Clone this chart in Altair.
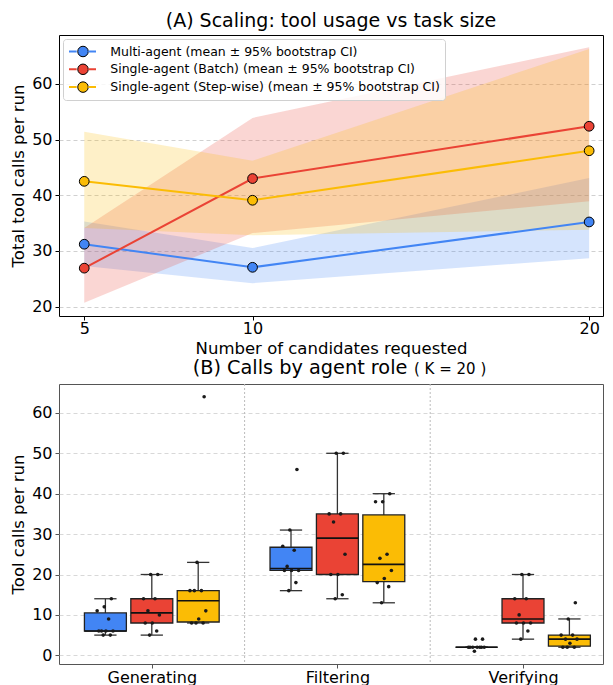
import altair as alt
import pandas as pd

# ---------------- Panel A data ----------------
K_VALUES = [5, 10, 20]
AGENTS = ["Multi-agent", "Single-agent (Batch)", "Single-agent (Step-wise)"]
LEGEND_SUFFIX = " (mean ± 95% bootstrap CI)"
COLORS = ["#4285F4", "#EA4335", "#FBBC05"]

MULTI_MEAN = [31.2, 27.05, 35.2]
MULTI_LO = [27.3, 24.2, 28.7]
MULTI_HI = [35.3, 30.5, 43.1]
BATCH_MEAN = [26.9, 43.0, 52.4]
BATCH_LO = [20.7, 33.2, 38.9]
BATCH_HI = [34.1, 53.9, 66.6]
STEP_MEAN = [42.5, 39.1, 48.0]
STEP_LO = [34.1, 32.8, 33.8]
STEP_HI = [51.4, 46.2, 66.3]
Y_TICKS_A = [20, 30, 40, 50, 60]

# ---------------- Panel B data (K = 20) ----------------
ROLES = ["Generating", "Filtering", "Verifying"]
MULTI_GEN = [5, 5, 6, 6, 6, 6, 9, 11, 12, 14]
BATCH_GEN = [5, 6, 8, 8, 10, 11, 14, 14, 20, 20]
STEP_GEN = [8, 8, 8, 9, 11, 16, 16, 16, 23, 64]
MULTI_FILT = [16, 18, 21, 21, 21, 22, 26, 27, 31, 46]
BATCH_FILT = [14, 15, 20, 20, 25, 33, 35, 35, 50, 50]
STEP_FILT = [13, 17, 18, 19, 21, 24, 25, 38, 38, 40]
MULTI_VER = [1, 2, 2, 2, 2, 2, 2, 2, 4, 4]
BATCH_VER = [4, 6, 8, 8, 8, 10, 14, 14, 20, 20]
STEP_VER = [2, 2, 2, 3, 4, 4, 5, 5, 9, 13]
Y_TICKS_B = [0, 10, 20, 30, 40, 50, 60]
TITLE_B = "(B) Calls by agent role"
TITLE_B_NOTE = "( K = 20 )"

FONT = "DejaVu Sans"
SERIES = [a + LEGEND_SUFFIX for a in AGENTS]
# line legend uses its own (visually identical) labels so that Vega-Lite keeps two legends
SERIES_LINE = [s + " " for s in SERIES]

rows_a = []
for s, sl, means, los, his in zip(SERIES, SERIES_LINE, [MULTI_MEAN, BATCH_MEAN, STEP_MEAN],
                                  [MULTI_LO, BATCH_LO, STEP_LO], [MULTI_HI, BATCH_HI, STEP_HI]):
    for k, m, lo, hi in zip(K_VALUES, means, los, his):
        rows_a.append({"K": k, "series": s, "series_line": sl, "mean": m, "lo": lo, "hi": hi})
df_a = pd.DataFrame(rows_a)

rows_b = []
groups_b = {
    ("Generating", 0): MULTI_GEN, ("Generating", 1): BATCH_GEN, ("Generating", 2): STEP_GEN,
    ("Filtering", 0): MULTI_FILT, ("Filtering", 1): BATCH_FILT, ("Filtering", 2): STEP_FILT,
    ("Verifying", 0): MULTI_VER, ("Verifying", 1): BATCH_VER, ("Verifying", 2): STEP_VER,
}
for (role, ai), vals in groups_b.items():
    for v in vals:
        rows_b.append({"role": role, "ri": ROLES.index(role), "series": SERIES[ai],
                       "ai": ai, "value": v})
df_b = pd.DataFrame(rows_b)

color_scale = alt.Scale(domain=SERIES, range=COLORS)
line_scale = alt.Scale(domain=SERIES_LINE, range=COLORS)

LAB = 16      # tick label size
TIT = 16.5    # axis title size
W = 544       # keeps the page within the window (the reference panel is cut at the right)
PX_PER_K = 33.66
PX_PER_ROLE = 185.6

# ---------------- Panel A ----------------
xa = alt.X("K:Q", scale=alt.Scale(domain=[4.25, 4.25 + W / PX_PER_K], nice=False, zero=False),
           axis=alt.Axis(values=K_VALUES, title="Number of candidates requested", grid=False,
                         domain=False, labelFontSize=LAB, titleFontSize=TIT, tickSize=4,
                         tickColor="black", labelColor="black", titleColor="black",
                         labelPadding=0, titlePadding=4, titleFontWeight="normal",
                         labelFont=FONT, titleFont=FONT))
ya_scale = alt.Scale(domain=[18.3, 68.8], nice=False, zero=False)
ya_axis = alt.Axis(values=Y_TICKS_A, title="Total tool calls per run", grid=True,
                   gridDash=[4, 3], gridColor="#d0d0d0", domain=False, labelFontSize=LAB,
                   titleFontSize=TIT, tickSize=4, tickColor="black", labelColor="black",
                   titleColor="black", labelPadding=3, titlePadding=5,
                   titleFontWeight="normal", labelFont=FONT, titleFont=FONT)

LEG_FS = 12.5
# marker legend: drawn first -> frame, black-edged circles and the label texts
marker_legend = alt.Legend(title=None, orient="none", legendX=4, legendY=4,
                           symbolType="circle", symbolSize=110, symbolStrokeColor="black",
                           symbolStrokeWidth=1, symbolOpacity=1, labelFontSize=LEG_FS,
                           labelFont=FONT, labelColor="black", labelLimit=450, padding=5,
                           rowPadding=2.8, clipHeight=15, symbolOffset=8.75, labelOffset=21,
                           fillColor="rgba(255,255,255,0.82)", strokeColor="#d0d0d0",
                           cornerRadius=3)
# line legend: drawn on top -> coloured line with a gap where the circle sits
line_legend = alt.Legend(title=None, orient="none", legendX=4, legendY=4,
                         symbolType="M-1,0H-0.43M0.43,0H1", symbolSize=729,
                         symbolStrokeWidth=2, labelFontSize=LEG_FS, labelFont=FONT,
                         labelExpr="''", padding=5, rowPadding=2.8, clipHeight=15)

band = alt.Chart(df_a).mark_area(opacity=0.22).encode(
    x=xa,
    y=alt.Y("lo:Q", scale=ya_scale, axis=ya_axis),
    y2="hi:Q",
    fill=alt.Fill("series:N", scale=color_scale, legend=marker_legend),
)
line = alt.Chart(df_a).mark_line(strokeWidth=2).encode(
    x=xa, y=alt.Y("mean:Q", scale=ya_scale),
    color=alt.Color("series_line:N", scale=line_scale, legend=line_legend),
)
pts = alt.Chart(df_a).mark_circle(size=95, opacity=1, stroke="black", strokeWidth=1).encode(
    x=xa, y=alt.Y("mean:Q", scale=ya_scale),
    fill=alt.Fill("series:N", scale=color_scale, legend=marker_legend),
)
top = alt.layer(band, line, pts).properties(
    width=W, height=281,
    title=alt.Title("(A) Scaling: tool usage vs task size", fontSize=19, fontWeight="normal",
                    font=FONT, color="black", frame="group", anchor="middle", offset=4),
    view=alt.ViewBackground(stroke="black", strokeWidth=1),
)

# ---------------- Panel B ----------------
n_roles = len(ROLES)
xb_scale = alt.Scale(domain=[-0.5, -0.5 + W / PX_PER_ROLE], nice=False, zero=False)
label_expr = "[" + ",".join("'" + r + "'" for r in ROLES) + "][datum.value]"
xb_axis = alt.Axis(values=list(range(n_roles)), labelExpr=label_expr, title=None, grid=False,
                   domain=False, labelFontSize=LAB, tickSize=4, tickColor="#555",
                   labelColor="black", labelPadding=1, labelFont=FONT)
yb_scale = alt.Scale(domain=[-2.15, 67.15], nice=False, zero=False)
yb_axis = alt.Axis(values=Y_TICKS_B, title="Tool calls per run", grid=True, gridDash=[4, 3],
                   gridColor="#d8d8d8", domain=False, labelFontSize=LAB, titleFontSize=TIT,
                   tickSize=4, tickColor="#555", labelColor="black", titleColor="black",
                   labelPadding=3, titlePadding=5, titleFontWeight="normal",
                   labelFont=FONT, titleFont=FONT)

SLOT = 0.25
HALF_BOX = 0.113
HALF_CAP = 0.06
pos_expr = "datum.ri + (datum.ai - 1) * %f" % SLOT

seps = alt.Chart(pd.DataFrame({"sep": [i + 0.5 for i in range(n_roles - 1)]})).mark_rule(
    color="#bbbbbb", strokeDash=[2, 2], strokeWidth=1).encode(
    x=alt.X("sep:Q", scale=xb_scale, axis=xb_axis))

whisk_base = alt.Chart(df_b).transform_joinaggregate(
    q1="q1(value)", q3="q3(value)", groupby=["ri", "ai"]
).transform_calculate(
    lof="datum.q1 - 1.5 * (datum.q3 - datum.q1)",
    hif="datum.q3 + 1.5 * (datum.q3 - datum.q1)",
).transform_filter(
    "datum.value >= datum.lof && datum.value <= datum.hif"
).transform_aggregate(
    wmin="min(value)", wmax="max(value)", groupby=["ri", "ai"]
).transform_calculate(
    pos=pos_expr,
    cl="datum.pos - %f" % HALF_CAP,
    cr="datum.pos + %f" % HALF_CAP,
)
whisker = whisk_base.mark_rule(color="#333333", strokeWidth=1.3).encode(
    x=alt.X("pos:Q", scale=xb_scale, axis=xb_axis),
    y=alt.Y("wmin:Q", scale=yb_scale, axis=yb_axis), y2="wmax:Q")
cap_lo = whisk_base.mark_rule(color="#333333", strokeWidth=1.3).encode(
    x=alt.X("cl:Q", scale=xb_scale), x2="cr:Q", y=alt.Y("wmin:Q", scale=yb_scale))
cap_hi = whisk_base.mark_rule(color="#333333", strokeWidth=1.3).encode(
    x=alt.X("cl:Q", scale=xb_scale), x2="cr:Q", y=alt.Y("wmax:Q", scale=yb_scale))

box_base = alt.Chart(df_b).transform_aggregate(
    q1="q1(value)", q3="q3(value)", med="median(value)", groupby=["ri", "ai", "series"]
).transform_calculate(
    pos=pos_expr,
    xl="datum.pos - %f" % HALF_BOX,
    xr="datum.pos + %f" % HALF_BOX,
)
box = box_base.mark_bar(stroke="#222222", strokeWidth=1.3, opacity=1).encode(
    x=alt.X("xl:Q", scale=xb_scale), x2="xr:Q",
    y=alt.Y("q1:Q", scale=yb_scale), y2="q3:Q",
    fill=alt.Fill("series:N", scale=color_scale, legend=None))
median = box_base.mark_rule(color="#111111", strokeWidth=1.6).encode(
    x=alt.X("xl:Q", scale=xb_scale), x2="xr:Q", y=alt.Y("med:Q", scale=yb_scale))

dots = alt.Chart(df_b).transform_window(
    rn="row_number()", groupby=["ri", "ai"]
).transform_calculate(
    xj=pos_expr + " + ((datum.rn * 0.381966) % 1 - 0.5) * 0.1"
).mark_circle(size=13, color="#1a1a1a", opacity=1).encode(
    x=alt.X("xj:Q", scale=xb_scale), y=alt.Y("value:Q", scale=yb_scale))

# title of panel B (two font sizes) drawn as text above the plot
title_main = alt.Chart(pd.DataFrame({"t": [TITLE_B]})).mark_text(
    fontSize=19.3, font=FONT, align="center", baseline="alphabetic", color="black").encode(
    text="t:N", x=alt.value(241), y=alt.value(-10))
title_note = alt.Chart(pd.DataFrame({"t": [TITLE_B_NOTE]})).mark_text(
    fontSize=15, font=FONT, align="left", baseline="alphabetic", color="black").encode(
    text="t:N", x=alt.value(355), y=alt.value(-10))

bottom = alt.layer(seps, whisker, cap_lo, cap_hi, box, median, dots,
                   title_main, title_note).properties(
    width=W, height=280,
    view=alt.ViewBackground(stroke="#555555", strokeWidth=1),
)

chart = alt.vconcat(top, bottom, spacing=1).configure(
    font=FONT, padding={"left": 2, "top": 3, "right": 0, "bottom": 0}
).configure_legend(titleFont=FONT)

chart.save("out.html", embed_options={"renderer": "svg", "actions": False})
